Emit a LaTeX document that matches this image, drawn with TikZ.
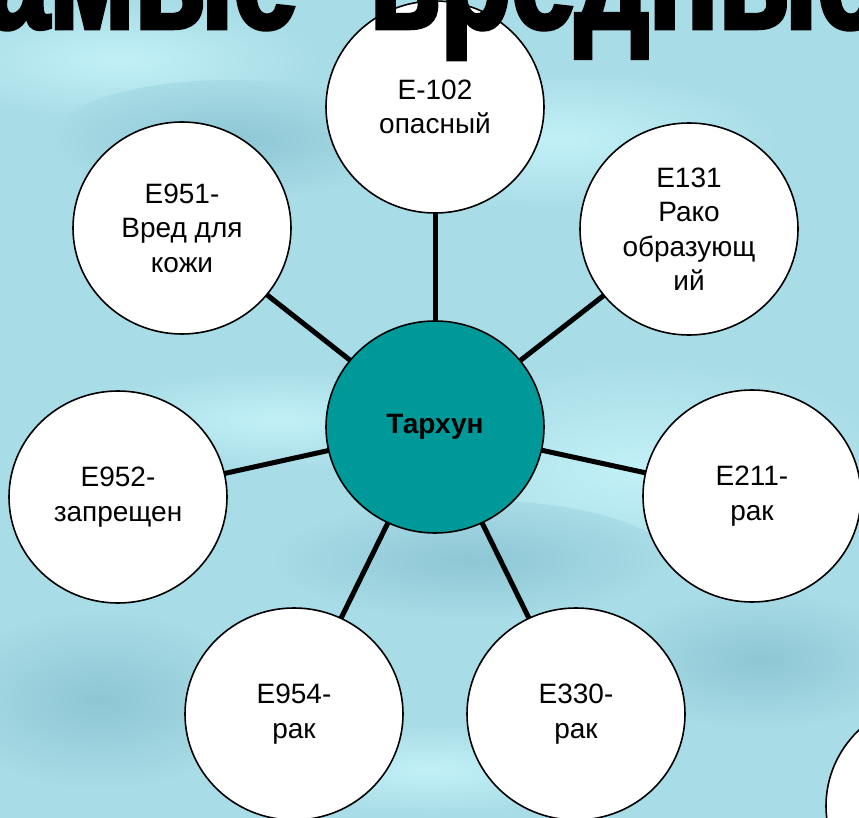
\documentclass[tikz,border=0pt]{standalone}
\usepackage{fontspec}
\setmainfont{Liberation Sans}
\newfontfamily\titlefont[FakeBold=3,FakeStretch=0.77]{Liberation Sans Bold}
\usetikzlibrary{shapes.geometric}
\definecolor{bgblue}{RGB}{168,220,230}
\definecolor{bglight}{RGB}{194,240,247}
\definecolor{bgdark}{RGB}{142,198,212}
\definecolor{hubteal}{RGB}{0,153,153}
\pgfdeclarelayer{bg}
\pgfdeclarelayer{links}
\pgfsetlayers{bg,links,main}
\begin{document}
\begin{tikzpicture}[x=1pt,y=-1pt,
  bubble/.style={ellipse,draw=black,line width=1.6pt,fill=white,
    minimum width=218pt,minimum height=212pt,inner sep=0pt,align=center,
    font=\fontsize{28}{34.5}\selectfont},
  hub/.style={bubble,fill=hubteal,font=\fontsize{28}{34.5}\selectfont\bfseries},
  link/.style={line width=5pt,black},
  blob/.style={inner color=#1,outer color=bgblue}]
\useasboundingbox (0,0) rectangle (859,818);
\begin{pgfonlayer}{bg}
  \fill[bgblue] (0,0) rectangle (859,818);
  \shade[blob=bglight] (640,470) ellipse (260 and 110);
  \shade[blob=bglight] (560,140) ellipse (220 and 70);
  \shade[blob=bglight] (120,60) ellipse (200 and 60);
  \shade[blob=bgdark] (230,140) ellipse (180 and 60);
  \shade[blob=bgdark] (100,700) ellipse (160 and 90);
  \shade[blob=bgdark] (470,560) ellipse (200 and 60);
  \shade[blob=bglight] (280,420) ellipse (200 and 50);
  \shade[blob=bgdark] (760,660) ellipse (150 and 70);
  \shade[blob=bglight] (430,770) ellipse (180 and 45);
\end{pgfonlayer}

\node[hub] (hub) at (435,427) {Тархун};
\node[bubble] (e102) at (435,107) {E-102\\опасный};
\node[bubble] (e131) at (689,229) {E131\\Рако\\образующ\\ий};
\node[bubble] (e951) at (182,228) {E951-\\Вред для\\кожи};
\node[bubble] (e952) at (118,497) {E952-\\запрещен};
\node[bubble] (e211) at (752,496) {E211-\\рак};
\node[bubble] (e954) at (294,714) {E954-\\рак};
\node[bubble] (e330) at (576,714) {E330-\\рак};
\node[bubble] (more) at (935,806) {};

\begin{pgfonlayer}{links}
  \foreach \t in {e102,e131,e951,e952,e211,e954,e330}
    \draw[link] (hub.center) -- (\t.center);
\end{pgfonlayer}

\begin{scope}
  \clip (0,0) rectangle (859,818);
  \node[anchor=base west,inner sep=0pt,font=\titlefont\fontsize{150}{150}\selectfont]
    (title) at (-100,28) {Самые\hspace{40pt} вредные};
\end{scope}
\end{tikzpicture}
\end{document}
